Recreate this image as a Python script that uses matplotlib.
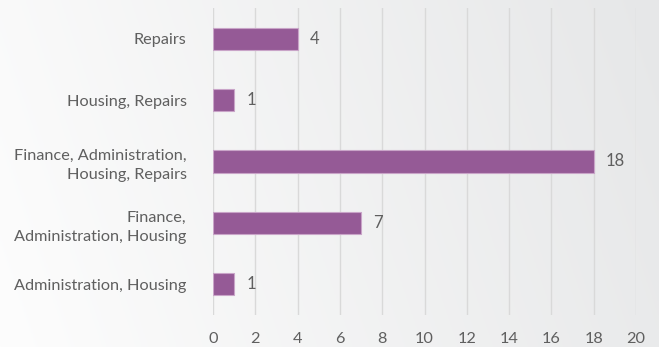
import matplotlib
matplotlib.use("Agg")
import matplotlib.pyplot as plt
import numpy as np

categories = [
    "Repairs",
    "Housing, Repairs",
    "Finance, Administration,\nHousing, Repairs",
    "Finance,\nAdministration, Housing",
    "Administration, Housing",
]
values = [4, 1, 18, 7, 1]
xticks = [0, 2, 4, 6, 8, 10, 12, 14, 16, 18, 20]

plt.rcParams['font.family'] = ['Lato', 'DejaVu Sans']

fig = plt.figure(figsize=(6.59, 3.47), dpi=100)

# gradient background
bg = fig.add_axes([0, 0, 1, 1], zorder=-10)
gx = np.linspace(0, 1, 300)
gy = np.linspace(0, 1, 150)
GX, GY = np.meshgrid(gx, gy)
t = np.clip(0.85 * GX + 0.15 * GY, 0, 1)
c0 = np.array([0xfd, 0xfd, 0xfd]) / 255
c1 = np.array([0xe6, 0xe7, 0xe8]) / 255
img = c0[None, None, :] * (1 - t[..., None]) + c1[None, None, :] * t[..., None]
bg.imshow(img, aspect='auto', extent=[0, 1, 0, 1], origin='lower')
bg.axis('off')

ax = fig.add_axes([213 / 659, 1 - 315 / 347, (636 - 213) / 659, (315 - 8) / 347])
ax.patch.set_alpha(0)

y = np.arange(len(categories))
ax.barh(y, values, height=0.36, color='#955a96', edgecolor='#c9a4c8', linewidth=0.8, zorder=3)
ax.set_ylim(len(categories) - 0.5, -0.5)
ax.set_xlim(0, 20)
ax.set_xticks(xticks)
ax.set_yticks(y)
ax.set_yticklabels(categories, ha='right', multialignment='right', linespacing=1.5)
ax.tick_params(axis='both', length=0, colors='#5f5f5f', labelsize=11.7)
ax.tick_params(axis='y', pad=19)
ax.tick_params(axis='x', pad=12)
ax.xaxis.grid(True, color='#d9d9d9', linewidth=1, zorder=0)
ax.set_axisbelow(True)
for s in ax.spines.values():
    s.set_visible(False)

for yi, v in zip(y, values):
    ax.annotate(str(v), (v, yi), xytext=(12, 0), textcoords='offset pixels',
                va='center', ha='left', fontsize=12, color='#5f5f5f')

fig.savefig('out.png', dpi=100)
